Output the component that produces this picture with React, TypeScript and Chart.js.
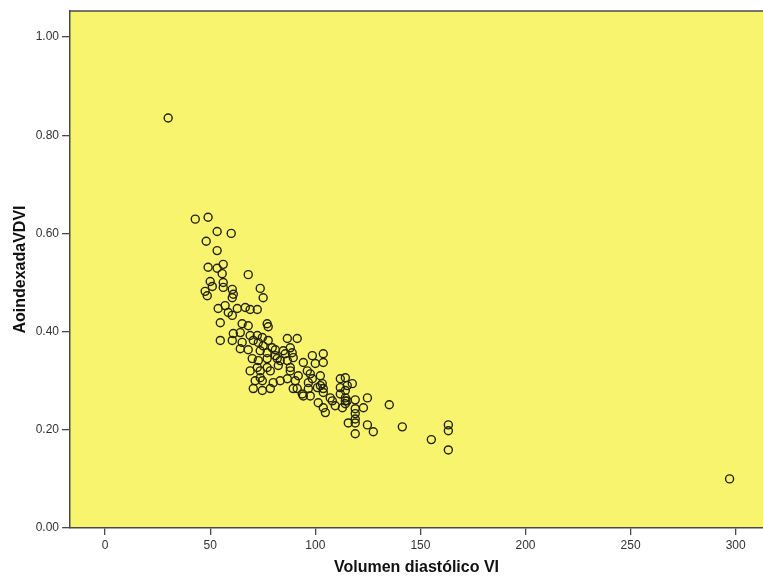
import React, { useEffect, useRef } from "react";
import { Chart, registerables } from "chart.js";

Chart.register(...registerables);

// Volumen diastólico VI (x)
const volumenDiastolico: number[] = [
  30.0, 42.9, 49.0, 53.3, 60.0, 48.1, 53.3, 49.0, 53.3, 56.2,
  55.7, 68.1, 50.0, 51.0, 56.2, 56.2, 60.5, 73.8, 47.6, 48.6,
  61.0, 75.2, 60.5, 53.8, 57.1, 58.6, 62.9, 66.7, 69.0, 72.4,
  60.5, 54.8, 65.2, 68.1, 77.1, 77.6, 61.0, 64.3, 69.0, 72.4,
  74.8, 54.8, 60.5, 65.2, 70.5, 72.9, 77.6, 86.7, 91.4, 64.3,
  68.1, 73.8, 77.1, 81.0, 84.8, 89.0, 70.0, 72.9, 77.1, 81.9,
  86.7, 89.5, 72.4, 77.1, 82.4, 88.1, 75.2, 79.5, 88.1, 85.7,
  81.0, 83.3, 98.6, 103.8, 103.8, 94.3, 100.0, 69.0, 73.8, 78.6,
  88.1, 96.2, 97.6, 102.4, 91.9, 71.4, 74.8, 80.0, 83.3, 90.5,
  96.7, 98.6, 103.3, 111.9, 114.3, 70.5, 74.8, 78.6, 89.5, 96.7,
  101.0, 103.8, 111.9, 115.2, 94.3, 97.6, 107.1, 114.3, 73.8, 86.7,
  91.4, 93.8, 102.4, 103.8, 101.4, 103.8, 111.9, 112.9, 104.8, 115.7,
  115.2, 117.6, 114.3, 114.3, 114.3, 108.1, 109.5, 119.0, 124.8, 122.9,
  119.0, 119.0, 119.0, 119.0, 124.8, 127.6, 119.0, 135.2, 141.4, 155.2,
  163.3, 163.3, 163.3, 297.1,
];

// AoindexadaVDVI (y)
const aoIndexadaVDVI: number[] = [
  0.835, 0.629, 0.633, 0.604, 0.600, 0.584, 0.565, 0.531, 0.529, 0.537,
  0.518, 0.516, 0.502, 0.492, 0.500, 0.490, 0.486, 0.488, 0.482, 0.473,
  0.476, 0.469, 0.469, 0.447, 0.453, 0.439, 0.447, 0.449, 0.445, 0.445,
  0.433, 0.418, 0.416, 0.412, 0.416, 0.410, 0.396, 0.398, 0.392, 0.392,
  0.388, 0.382, 0.382, 0.378, 0.382, 0.378, 0.382, 0.386, 0.386, 0.365,
  0.363, 0.361, 0.357, 0.363, 0.361, 0.357, 0.345, 0.341, 0.345, 0.345,
  0.341, 0.347, 0.327, 0.327, 0.331, 0.327, 0.371, 0.367, 0.367, 0.355,
  0.351, 0.341, 0.351, 0.355, 0.337, 0.337, 0.335, 0.320, 0.320, 0.320,
  0.320, 0.320, 0.314, 0.310, 0.310, 0.300, 0.300, 0.296, 0.300, 0.300,
  0.296, 0.304, 0.294, 0.304, 0.306, 0.284, 0.280, 0.284, 0.284, 0.284,
  0.286, 0.284, 0.286, 0.290, 0.269, 0.269, 0.265, 0.265, 0.306, 0.304,
  0.284, 0.273, 0.290, 0.276, 0.255, 0.245, 0.273, 0.245, 0.235, 0.214,
  0.259, 0.294, 0.280, 0.259, 0.253, 0.259, 0.249, 0.261, 0.265, 0.245,
  0.243, 0.233, 0.222, 0.214, 0.210, 0.196, 0.192, 0.251, 0.206, 0.180,
  0.210, 0.198, 0.159, 0.100,
];

const xTicks: number[] = [0, 50, 100, 150, 200, 250, 300];
const yTicks: number[] = [0, 0.2, 0.4, 0.6, 0.8, 1.0];

const xTitle = "Volumen diastólico VI";
const yTitle = "AoindexadaVDVI";

const FRAME = "#4a4a4a";
const PLOT_BG = "#F9F46E";

const framePlugin = {
  id: "frameBg",
  beforeDraw(chart: any) {
    const { ctx, chartArea } = chart;
    if (!chartArea) return;
    ctx.save();
    ctx.fillStyle = PLOT_BG;
    ctx.fillRect(chartArea.left, chartArea.top, chartArea.right - chartArea.left, chartArea.bottom - chartArea.top);
    ctx.restore();
  },
  afterDraw(chart: any) {
    const { ctx, chartArea } = chart;
    if (!chartArea) return;
    ctx.save();
    ctx.strokeStyle = FRAME;
    ctx.lineWidth = 1.5;
    ctx.beginPath();
    ctx.moveTo(chartArea.left, chartArea.top);
    ctx.lineTo(chartArea.right, chartArea.top);
    ctx.stroke();
    ctx.restore();
  },
};

export default function App() {
  const ref = useRef<HTMLCanvasElement | null>(null);

  useEffect(() => {
    if (!ref.current) return;
    const points = volumenDiastolico.map((x, i) => ({ x, y: aoIndexadaVDVI[i] }));
    const chart = new Chart(ref.current, {
      type: "scatter",
      data: {
        datasets: [
          {
            data: points,
            pointStyle: "circle",
            pointRadius: 4,
            pointHoverRadius: 4,
            pointBorderWidth: 1.4,
            borderColor: "#23230f",
            backgroundColor: "rgba(0,0,0,0)",
          },
        ],
      },
      options: {
        responsive: false,
        animation: false,
        devicePixelRatio: 1,
        layout: { autoPadding: false, padding: { top: 11, right: 0, left: 0, bottom: 0 } },
        plugins: {
          legend: { display: false },
          tooltip: { enabled: false },
        },
        scales: {
          x: {
            type: "linear",
            min: -16.7,
            max: 313,
            afterBuildTicks: (scale: any) => {
              scale.ticks = xTicks.map((v) => ({ value: v }));
            },
            afterFit: (scale: any) => {
              scale.height = 51;
            },
            grid: {
              display: true,
              drawOnChartArea: false,
              drawTicks: true,
              tickLength: 7,
              color: FRAME,
              lineWidth: 1.3,
            },
            border: { display: true, color: FRAME, width: 1.5 },
            ticks: {
              padding: 3,
              color: "#333",
              font: { family: "'Liberation Sans', Arial, sans-serif", size: 12 },
              callback: (v: any) => String(v),
            },
            title: {
              display: true,
              text: xTitle,
              color: "#111",
              font: { family: "'Liberation Sans', Arial, sans-serif", size: 16, weight: "bold" },
              padding: { top: 0, bottom: 2 },
            },
          },
          y: {
            type: "linear",
            min: 0,
            max: 1.053,
            afterBuildTicks: (scale: any) => {
              scale.ticks = yTicks.map((v) => ({ value: v }));
            },
            afterFit: (scale: any) => {
              scale.width = 70;
            },
            grid: {
              display: true,
              drawOnChartArea: false,
              drawTicks: true,
              tickLength: 8,
              color: FRAME,
              lineWidth: 1.3,
            },
            border: { display: true, color: FRAME, width: 1.5 },
            ticks: {
              padding: 3,
              color: "#333",
              font: { family: "'Liberation Sans', Arial, sans-serif", size: 12 },
              callback: (v: any) => Number(v).toFixed(2),
            },
            title: {
              display: true,
              text: yTitle,
              color: "#111",
              font: { family: "'Liberation Sans', Arial, sans-serif", size: 16, weight: "bold" },
              padding: { top: 11, bottom: 0 },
            },
          },
        },
      },
      plugins: [framePlugin],
    });
    return () => chart.destroy();
  }, []);

  return (
    <div style={{ position: "fixed", left: 0, top: 0, width: 763, height: 579, background: "#fff" }}>
      <canvas ref={ref} width={763} height={579} style={{ width: 763, height: 579, display: "block" }} />
    </div>
  );
}
